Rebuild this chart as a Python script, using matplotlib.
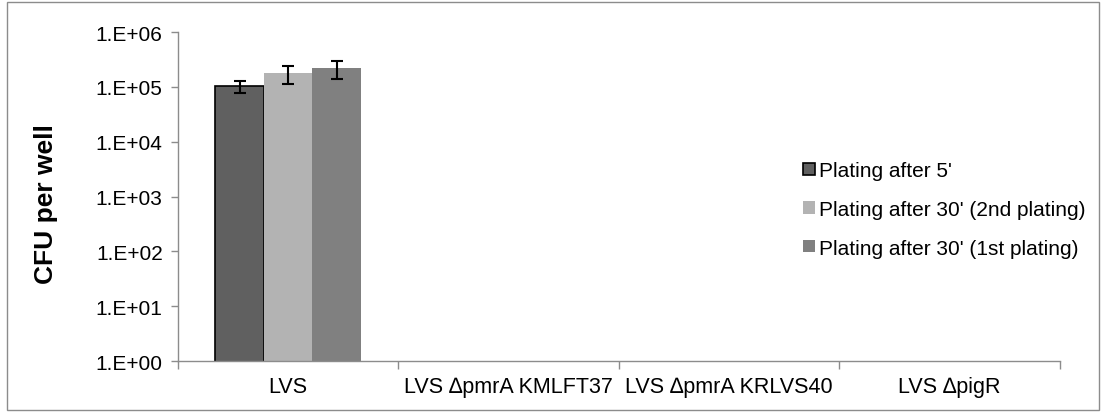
import numpy as np
import matplotlib
matplotlib.use("Agg")
import matplotlib.pyplot as plt
from matplotlib.patches import Rectangle
from matplotlib.ticker import FixedLocator, FuncFormatter, NullLocator

plt.rcParams['font.family'] = ['Liberation Sans', 'DejaVu Sans']

# data
strains = ["LVS", "LVS \u2206pmrA KMLFT37", "LVS \u2206pmrA KRLVS40", "LVS \u2206pigR"]
series_names = ["Plating after 5'", "Plating after 30' (2nd plating)", "Plating after 30' (1st plating)"]
plating_5 = [1.03e5, np.nan, np.nan, np.nan]
plating_30_2nd = [1.79e5, np.nan, np.nan, np.nan]
plating_30_1st = [2.18e5, np.nan, np.nan, np.nan]
err_5 = [0.25e5, np.nan, np.nan, np.nan]
err_30_2nd = [0.65e5, np.nan, np.nan, np.nan]
err_30_1st = [0.8e5, np.nan, np.nan, np.nan]

colors = ["#606060", "#b3b3b3", "#808080"]
edges = ["black", "none", "none"]

fig = plt.figure(figsize=(11.05, 4.14), dpi=100)
ax = fig.add_axes([0.161, 0.1256, 0.798, 0.7944])

x = np.arange(len(strains))
w = 0.22
values = [plating_5, plating_30_2nd, plating_30_1st]
errors = [err_5, err_30_2nd, err_30_1st]
for i in range(3):
    pos = x + (i - 1) * w
    ax.bar(pos, values[i], width=w, color=colors[i], edgecolor=edges[i],
           linewidth=1.2 if edges[i] != "none" else 0, label=series_names[i], zorder=2)
    ax.errorbar(pos, values[i], yerr=errors[i], fmt="none", ecolor="black",
                elinewidth=1.5, capsize=4.5, capthick=1.5, zorder=3)

ax.set_yscale("log")
ax.set_ylim(1, 1e6)
ax.set_xlim(-0.5, len(strains) - 0.5)
ax.yaxis.set_major_locator(FixedLocator([10.0 ** k for k in range(7)]))
ax.yaxis.set_minor_locator(NullLocator())
ax.yaxis.set_major_formatter(FuncFormatter(lambda v, p: "1.E+%02d" % int(round(np.log10(v)))))

ax.set_xticks(np.arange(-0.5, len(strains)), labels=[""] * (len(strains) + 1))
ax.set_xticks(x, labels=strains, minor=True)
ax.tick_params(axis="x", which="major", length=6, color="#8c8c8c", width=1)
ax.tick_params(axis="x", which="minor", length=0, pad=11, labelsize=15.5)
ax.tick_params(axis="y", which="major", length=5, color="#8c8c8c", width=1, labelsize=15, pad=6)

for s in ["top", "right"]:
    ax.spines[s].set_visible(False)
for s in ["left", "bottom"]:
    ax.spines[s].set_color("#8c8c8c")
    ax.spines[s].set_linewidth(1)

ax.set_ylabel("CFU per well", fontsize=19, fontweight="bold")
ax.yaxis.set_label_coords(-0.136, 0.48)

leg = ax.legend(loc="upper left", bbox_to_anchor=(0.700, 0.633), frameon=False,
                fontsize=15, handlelength=0.53, handleheight=0.53, handletextpad=0.2,
                labelspacing=0.95, borderaxespad=0)

fig.add_artist(Rectangle((0.006, 0.008), 0.989, 0.985, transform=fig.transFigure,
                         fill=False, edgecolor="#8c8c8c", linewidth=1))

fig.savefig("out.png", dpi=100)
